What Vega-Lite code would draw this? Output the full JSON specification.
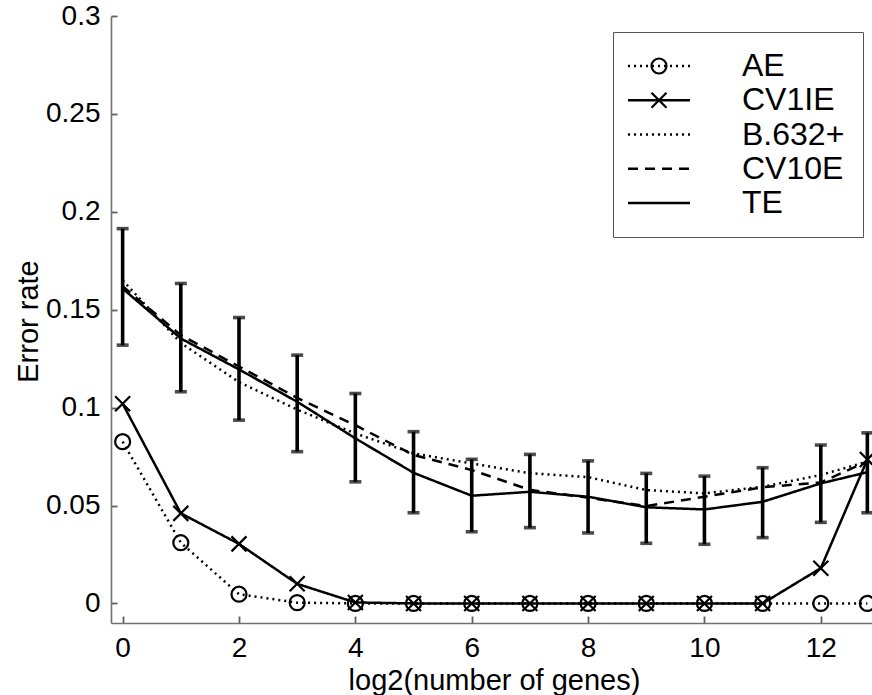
{
  "$schema": "https://vega.github.io/schema/vega-lite/v6.json",
  "width": 761,
  "height": 607,
  "autosize": {"type": "none"},
  "padding": {"left": 111, "top": 16, "right": 0, "bottom": 72},
  "background": "white",
  "config": {
    "view": {"stroke": null},
    "font": "Liberation Sans",
    "axis": {
      "labelFont": "Liberation Sans",
      "titleFont": "Liberation Sans",
      "labelColor": "black",
      "titleColor": "black",
      "labelFontSize": 28,
      "titleFontSize": 29,
      "titleFontWeight": "normal",
      "domainColor": "#707070",
      "domainWidth": 1.6,
      "tickColor": "#606060",
      "tickWidth": 1.8,
      "grid": false,
      "labelOverlap": false,
      "labelFlush": false
    }
  },
  "datasets": {
    "lines": [
      {"s": "AE", "x": 0, "y": 0.0826}, {"s": "AE", "x": 1, "y": 0.031}, {"s": "AE", "x": 2, "y": 0.0047}, {"s": "AE", "x": 3, "y": 0.0004},
      {"s": "AE", "x": 4, "y": 0}, {"s": "AE", "x": 5, "y": 0}, {"s": "AE", "x": 6, "y": 0}, {"s": "AE", "x": 7, "y": 0},
      {"s": "AE", "x": 8, "y": 0}, {"s": "AE", "x": 9, "y": 0}, {"s": "AE", "x": 10, "y": 0}, {"s": "AE", "x": 11, "y": 0},
      {"s": "AE", "x": 12, "y": 0}, {"s": "AE", "x": 12.8, "y": 0},
      {"s": "CV1IE", "x": 0, "y": 0.102}, {"s": "CV1IE", "x": 1, "y": 0.046}, {"s": "CV1IE", "x": 2, "y": 0.0304}, {"s": "CV1IE", "x": 3, "y": 0.010},
      {"s": "CV1IE", "x": 4, "y": 0.0005}, {"s": "CV1IE", "x": 5, "y": 0}, {"s": "CV1IE", "x": 6, "y": 0}, {"s": "CV1IE", "x": 7, "y": 0},
      {"s": "CV1IE", "x": 8, "y": 0}, {"s": "CV1IE", "x": 9, "y": 0}, {"s": "CV1IE", "x": 10, "y": 0}, {"s": "CV1IE", "x": 11, "y": 0},
      {"s": "CV1IE", "x": 12, "y": 0.018}, {"s": "CV1IE", "x": 12.8, "y": 0.0735},
      {"s": "B.632+", "x": 0, "y": 0.165}, {"s": "B.632+", "x": 1, "y": 0.133}, {"s": "B.632+", "x": 2, "y": 0.113}, {"s": "B.632+", "x": 3, "y": 0.099},
      {"s": "B.632+", "x": 4, "y": 0.0868}, {"s": "B.632+", "x": 5, "y": 0.0766}, {"s": "B.632+", "x": 6, "y": 0.0715}, {"s": "B.632+", "x": 7, "y": 0.0665},
      {"s": "B.632+", "x": 8, "y": 0.0645}, {"s": "B.632+", "x": 9, "y": 0.0579}, {"s": "B.632+", "x": 10, "y": 0.0562}, {"s": "B.632+", "x": 11, "y": 0.0596},
      {"s": "B.632+", "x": 12, "y": 0.0656}, {"s": "B.632+", "x": 12.8, "y": 0.0724},
      {"s": "CV10E", "x": 0, "y": 0.162}, {"s": "CV10E", "x": 1, "y": 0.137}, {"s": "CV10E", "x": 2, "y": 0.121}, {"s": "CV10E", "x": 3, "y": 0.105},
      {"s": "CV10E", "x": 4, "y": 0.091}, {"s": "CV10E", "x": 5, "y": 0.0758}, {"s": "CV10E", "x": 6, "y": 0.0681}, {"s": "CV10E", "x": 7, "y": 0.058},
      {"s": "CV10E", "x": 8, "y": 0.054}, {"s": "CV10E", "x": 9, "y": 0.0497}, {"s": "CV10E", "x": 10, "y": 0.0545}, {"s": "CV10E", "x": 11, "y": 0.0593},
      {"s": "CV10E", "x": 12, "y": 0.0618}, {"s": "CV10E", "x": 12.8, "y": 0.0725},
      {"s": "TE", "x": 0, "y": 0.1608}, {"s": "TE", "x": 1, "y": 0.1353}, {"s": "TE", "x": 2, "y": 0.1195}, {"s": "TE", "x": 3, "y": 0.103},
      {"s": "TE", "x": 4, "y": 0.0843}, {"s": "TE", "x": 5, "y": 0.0667}, {"s": "TE", "x": 6, "y": 0.055}, {"s": "TE", "x": 7, "y": 0.057},
      {"s": "TE", "x": 8, "y": 0.0545}, {"s": "TE", "x": 9, "y": 0.0491}, {"s": "TE", "x": 10, "y": 0.048}, {"s": "TE", "x": 11, "y": 0.0519},
      {"s": "TE", "x": 12, "y": 0.0613}, {"s": "TE", "x": 12.8, "y": 0.067}
    ],
    "te": [
      {"x": 0, "lo": 0.1319, "hi": 0.1914}, {"x": 1, "lo": 0.1081, "hi": 0.1634}, {"x": 2, "lo": 0.0936, "hi": 0.146},
      {"x": 3, "lo": 0.0775, "hi": 0.1268}, {"x": 4, "lo": 0.0621, "hi": 0.1072}, {"x": 5, "lo": 0.0463, "hi": 0.0877},
      {"x": 6, "lo": 0.0366, "hi": 0.0736}, {"x": 7, "lo": 0.0387, "hi": 0.0761}, {"x": 8, "lo": 0.036, "hi": 0.0728},
      {"x": 9, "lo": 0.0307, "hi": 0.0664}, {"x": 10, "lo": 0.0302, "hi": 0.065}, {"x": 11, "lo": 0.0336, "hi": 0.0693},
      {"x": 12, "lo": 0.0414, "hi": 0.0809}, {"x": 12.8, "lo": 0.0463, "hi": 0.0871}
    ]
  },
  "encoding": {
    "x": {
      "field": "x", "type": "quantitative",
      "scale": {"domain": [-0.2, 12.88], "nice": false, "zero": false},
      "axis": {
        "values": [0, 2, 4, 6, 8, 10, 12], "format": "d",
        "tickSize": -7, "labelPadding": 18,
        "title": "log2(number of genes)",
        "titleX": 383, "titleY": 66, "titleBaseline": "alphabetic", "titleAlign": "center"
      }
    }
  },
  "layer": [
    {
      "data": {"name": "lines"},
      "mark": {"type": "line", "color": "black", "strokeWidth": 2.5},
      "encoding": {
        "y": {
          "field": "y", "type": "quantitative",
          "scale": {"domain": [-0.01, 0.3], "nice": false, "zero": false},
          "axis": {
            "values": [0, 0.05, 0.1, 0.15, 0.2, 0.25, 0.3], "format": ".2~f",
            "tickSize": -6, "labelPadding": 17,
            "title": "Error rate", "titleAngle": -90,
            "titleX": -74, "titleY": 305, "titleBaseline": "alphabetic", "titleAlign": "center"
          }
        },
        "strokeDash": {
          "field": "s", "type": "nominal",
          "scale": {
            "domain": ["AE", "CV1IE", "B.632+", "CV10E", "TE"],
            "range": [[2, 4], [1, 0], [2, 4], [10, 7], [1, 0]]
          },
          "legend": {
            "orient": "none", "legendX": 502, "legendY": 16, "title": null,
            "symbolType": "M-31,0L31,0", "symbolSize": 4, "symbolStrokeWidth": 2.6, "symbolStrokeColor": "black",
            "labelFont": "Liberation Sans", "labelFontSize": 32, "labelColor": "black", "labelLimit": 300,
            "padding": 18, "rowPadding": 2.25, "symbolOffset": 12, "labelOffset": 67,
            "strokeColor": "#555555"
          }
        }
      }
    },
    {
      "data": {"name": "te"},
      "mark": {"type": "rule", "color": "black", "strokeWidth": 3.6},
      "encoding": {
        "y": {"field": "lo", "type": "quantitative"},
        "y2": {"field": "hi"}
      }
    },
    {
      "data": {"name": "te"},
      "mark": {"type": "tick", "color": "black", "orient": "horizontal", "size": 12, "thickness": 3.6},
      "encoding": {"y": {"field": "lo", "type": "quantitative"}}
    },
    {
      "data": {"name": "te"},
      "mark": {"type": "tick", "color": "black", "orient": "horizontal", "size": 12, "thickness": 3.6},
      "encoding": {"y": {"field": "hi", "type": "quantitative"}}
    },
    {
      "data": {"name": "lines"},
      "transform": [{"filter": "datum.s === 'AE' || datum.s === 'CV1IE'"}],
      "mark": {"type": "point", "filled": false, "color": "black", "strokeWidth": 2.2, "size": 225, "opacity": 1},
      "encoding": {
        "y": {"field": "y", "type": "quantitative"},
        "shape": {
          "field": "s", "type": "nominal",
          "scale": {"domain": ["AE", "CV1IE"], "range": ["circle", "M-1,-1L1,1M-1,1L1,-1"]},
          "legend": {
            "orient": "none", "legendX": 502, "legendY": 16, "title": null,
            "symbolSize": 225, "symbolStrokeWidth": 2.2, "symbolStrokeColor": "black", "symbolFillColor": "transparent",
            "labelFont": "Liberation Sans", "labelFontSize": 32, "labelColor": "transparent", "labelLimit": 300,
            "padding": 18, "rowPadding": 2.25, "symbolOffset": 12, "labelOffset": 67,
            "strokeColor": null
          }
        }
      }
    }
  ]
}
